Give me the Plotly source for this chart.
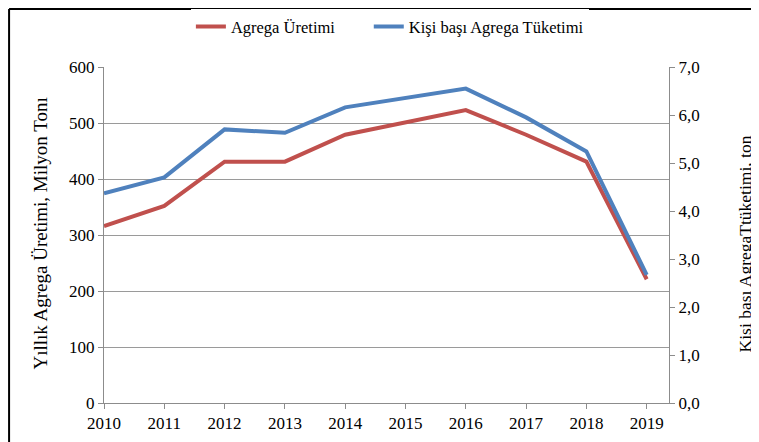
import plotly.graph_objects as go

years = [2010, 2011, 2012, 2013, 2014, 2015, 2016, 2017, 2018, 2019]
uretim = [316, 352, 431, 431, 479, 501, 523, 479, 431, 221]
kisi_basi = [4.37, 4.70, 5.70, 5.63, 6.16, 6.35, 6.55, 5.95, 5.24, 2.67]

left_ticks = [0, 100, 200, 300, 400, 500, 600]
right_ticks = [0, 1, 2, 3, 4, 5, 6, 7]
right_labels = ["0,0", "1,0", "2,0", "3,0", "4,0", "5,0", "6,0", "7,0"]

red = "#C0504D"
blue = "#4F81BD"
font = "Times New Roman, Liberation Serif, serif"
axis_grey = "#8c8c8c"

fig = go.Figure()
# non-breaking spaces widen the gap between the two legend entries
fig.add_trace(go.Scatter(x=years, y=uretim, mode="lines", name="Agrega Üretimi" + "\u00a0" * 7,
                         line=dict(color=red, width=4)))
fig.add_trace(go.Scatter(x=years, y=kisi_basi, mode="lines", name="Kişi başı Agrega Tüketimi",
                         line=dict(color=blue, width=4), yaxis="y2"))

# page body has an 8px margin, so the figure is a bit smaller than the window
fig.update_layout(
    width=751, height=434,
    margin=dict(l=96, r=90, t=59, b=39, autoexpand=False),
    plot_bgcolor="white", paper_bgcolor="white",
    font=dict(family=font, size=17, color="black"),
    showlegend=True,
    legend=dict(orientation="h", x=0.506, xanchor="center", y=1.12, yanchor="middle",
                font=dict(size=16.5), itemwidth=30, traceorder="normal"),
    xaxis=dict(range=[2010, 2019.37], tickvals=years, showgrid=False, zeroline=False,
               showline=True, linecolor=axis_grey, linewidth=1, automargin=False,
               ticks="outside", ticklen=5, tickcolor=axis_grey),
    yaxis=dict(range=[0, 600], tickvals=left_ticks, showgrid=True, gridcolor="#9a9a9a",
               zeroline=False, showline=True, linecolor=axis_grey, linewidth=1,
               automargin=False, ticks="outside", ticklen=5, tickcolor=axis_grey),
    yaxis2=dict(range=[0, 7], tickvals=right_ticks, ticktext=right_labels, overlaying="y",
                side="right", showgrid=False, zeroline=False, showline=True,
                linecolor=axis_grey, linewidth=1, automargin=False, ticks="outside",
                ticklen=5, tickcolor=axis_grey),
)

# axis titles
fig.add_annotation(text="Yıllık Agrega Üretimi, Milyon Tonı", xref="paper", yref="paper",
                   x=-0.113, y=0.505, textangle=-90, showarrow=False,
                   font=dict(size=19), xanchor="center", yanchor="middle")
fig.add_annotation(text="Kişi başı AgregaTtüketimi, ton", xref="paper", yref="paper",
                   x=1.1345, y=0.475, textangle=-90, showarrow=False,
                   font=dict(size=17.5), xanchor="center", yanchor="middle")

# outer frame (top and left edges)
fig.add_shape(type="line", xref="paper", yref="paper", x0=-0.168, x1=1.2, y0=1.1726, y1=1.1726,
              line=dict(color="black", width=2))
fig.add_shape(type="line", xref="paper", yref="paper", x0=-0.168, x1=-0.168, y0=-0.2, y1=1.1726,
              line=dict(color="black", width=2))

fig.write_html("out.html")
